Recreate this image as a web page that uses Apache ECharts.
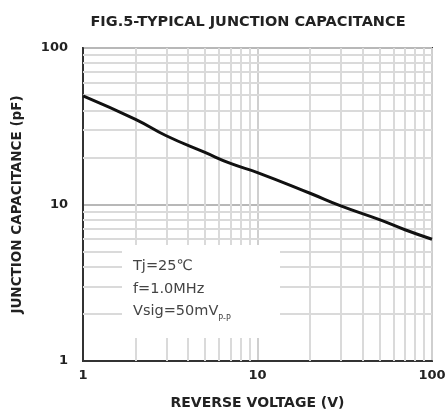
<!DOCTYPE html>
<html>
<head>
<meta charset="utf-8">
<script src="https://cdn.jsdelivr.net/npm/echarts@6/dist/echarts.min.js"></script>
<style>html,body{margin:0;padding:0;background:#fff;}#c{width:446px;height:417px;}</style>
</head>
<body>
<div id="c"></div>
<script>
var voltage = [1, 2, 3, 5, 7, 10, 20, 30, 50, 70, 100];
var capacitance = [49.5, 35, 27.5, 21.5, 18.3, 16, 11.8, 9.8, 8.0, 6.9, 6.0];
var minorGridX = [2,3,4,5,6,7,8,9,20,30,40,50,60,70,80,90];
var minorGridY = [2,3,4,5,6,7,8,9,20,30,40,50,60,70,80,90];
var conditionLines = ['Tj=25\u2103', 'f=1.0MHz', 'Vsig=50mV{sub|P-P}'];

var chart = echarts.init(document.getElementById('c'));
var markData = minorGridX.map(function(v){return {xAxis: v};})
  .concat(minorGridY.map(function(v){return {yAxis: v};}));
var boldFont = {fontFamily: 'DejaVu Sans', fontWeight: 'bold', color: '#222'};

chart.setOption({
  animation: false,
  backgroundColor: '#fff',
  title: {
    text: 'FIG.5-TYPICAL JUNCTION CAPACITANCE',
    left: 243, top: 10, textAlign: 'center',
    textStyle: Object.assign({fontSize: 14.5}, boldFont)
  },
  grid: {left: 83, right: 14, top: 48, bottom: 56, show: true, borderColor: '#333', borderWidth: 2,
         containLabel: false, outerBoundsMode: 'none'},
  xAxis: {
    type: 'log', logBase: 10, min: 1, max: 100,
    name: 'REVERSE VOLTAGE (V)', nameLocation: 'middle', nameGap: 35,
    nameTextStyle: Object.assign({fontSize: 14}, boldFont),
    axisLine: {lineStyle: {color: '#333', width: 2}},
    axisTick: {show: false},
    axisLabel: Object.assign({fontSize: 13, margin: 8}, boldFont),
    splitLine: {show: true, lineStyle: {color: '#cfcfcf', width: 2}}
  },
  yAxis: {
    type: 'log', logBase: 10, min: 1, max: 100,
    name: 'JUNCTION CAPACITANCE (pF)', nameLocation: 'middle', nameGap: 59, nameRotate: 90,
    nameTextStyle: Object.assign({fontSize: 13.5}, boldFont),
    axisLine: {lineStyle: {color: '#333', width: 2}},
    axisTick: {show: false},
    axisLabel: Object.assign({fontSize: 13, margin: 15}, boldFont),
    splitLine: {show: true, lineStyle: {color: '#b8b8b8', width: 2}}
  },
  series: [{
    type: 'line',
    data: voltage.map(function(v, i){return [v, capacitance[i]];}),
    smooth: true,
    showSymbol: false,
    lineStyle: {color: '#111', width: 3},
    z: 5,
    markLine: {
      silent: true, symbol: ['none', 'none'], label: {show: false},
      lineStyle: {color: '#dadada', width: 2, type: 'solid'},
      data: markData, z: 1
    }
  }],
  graphic: [
    {type: 'rect', left: 122, top: 245, z: 100, shape: {width: 158, height: 93}, style: {fill: '#fff'}},
    {type: 'text', left: 133, top: 255, z: 101, style: {
      text: conditionLines.join('\n'),
      fontFamily: 'DejaVu Sans', fontSize: 14.5, lineHeight: 22.5, fill: '#444',
      rich: {sub: {fontSize: 8, verticalAlign: 'bottom', padding: [6,0,0,0], fill: '#444', fontFamily: 'DejaVu Sans'}}
    }}
  ]
});
</script>
</body>
</html>
